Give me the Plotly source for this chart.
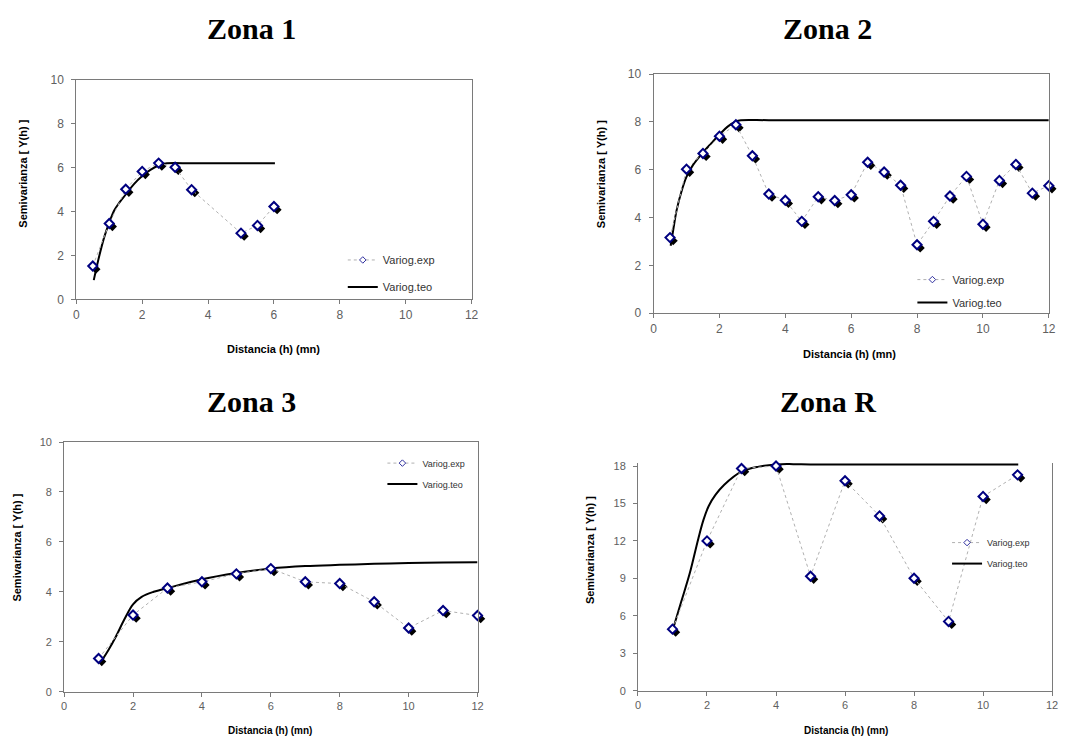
import plotly.graph_objects as go

# ---------------- data ----------------
z1_exp_x = [0.5, 1.0, 1.5, 2.0, 2.5, 3.0, 3.5, 5.0, 5.5, 6.0]
z1_exp_y = [1.52, 3.46, 5.02, 5.83, 6.21, 6.02, 5.00, 3.02, 3.37, 4.23]
z1_teo_x = [0.53, 0.7, 0.85, 1.0, 1.15, 1.3, 1.5, 1.75, 2.0, 2.25, 2.5, 2.75, 3.5, 4.5, 6.03]
z1_teo_y = [0.88, 2.0, 2.85, 3.5, 4.05, 4.4, 4.78, 5.25, 5.62, 5.9, 6.1, 6.2, 6.2, 6.2, 6.2]

z2_exp_x = [0.5, 1.0, 1.5, 2.0, 2.5, 3.0, 3.5, 4.0, 4.5, 5.0, 5.5, 6.0,
            6.5, 7.0, 7.5, 8.0, 8.5, 9.0, 9.5, 10.0, 10.5, 11.0, 11.5, 12.0]
z2_exp_y = [3.16, 6.02, 6.68, 7.40, 7.88, 6.58, 4.98, 4.72, 3.84, 4.87, 4.71, 4.95,
            6.31, 5.90, 5.35, 2.86, 3.84, 4.90, 5.72, 3.72, 5.55, 6.22, 5.02, 5.33]
z2_teo_x = [0.52, 0.6, 0.7, 0.85, 1.0, 1.2, 1.5, 1.75, 2.0, 2.25, 2.5, 2.65, 3.5, 6.0, 9.0, 12.0]
z2_teo_y = [2.82, 3.5, 4.3, 5.1, 5.7, 6.2, 6.72, 7.1, 7.47, 7.8, 8.02, 8.07, 8.07, 8.07, 8.07, 8.07]

z3_exp_x = [1, 2, 3, 4, 5, 6, 7, 8, 9, 10, 11, 12]
z3_exp_y = [1.33, 3.07, 4.15, 4.40, 4.72, 4.93, 4.40, 4.33, 3.60, 2.55, 3.25, 3.05]
z3_teo_x = [1.05, 1.3, 1.5, 1.75, 2.0, 2.25, 2.6, 3.0, 4.0, 5.0, 6.0, 7.0, 8.0, 9.0, 10.0, 11.0, 12.0]
z3_teo_y = [1.15, 1.7, 2.2, 2.9, 3.5, 3.8, 4.0, 4.15, 4.5, 4.75, 4.93, 5.03, 5.08, 5.12, 5.15, 5.17, 5.18]

zr_exp_x = [1, 2, 3, 4, 5, 6, 7, 8, 9, 10, 11]
zr_exp_y = [4.93, 12.0, 17.8, 18.0, 9.17, 16.82, 14.0, 9.01, 5.55, 15.56, 17.29]
zr_teo_x = [1.02, 1.25, 1.5, 1.75, 1.9, 2.05, 2.25, 2.5, 3.0, 3.5, 4.0, 4.5, 5.0, 8.0, 11.02]
zr_teo_y = [4.98, 7.1, 9.4, 12.2, 13.7, 14.8, 15.7, 16.5, 17.55, 17.95, 18.13, 18.15, 18.13, 18.13, 18.13]

titles = ["Zona 1", "Zona 2", "Zona 3", "Zona R"]
exp_name = "Variog.exp"
teo_name = "Variog.teo"
x_title = "Distancia (h) (mn)"
y_title = "Semivarianza [ Y(h) ]"

# ---------------- layout helpers ----------------
W, H = 1066, 750


def fx(px):
    return px / W


def fy(py):
    return 1 - py / H


panels = [
    dict(ex=z1_exp_x, ey=z1_exp_y, tx=z1_teo_x, ty=z1_teo_y,
         xl=74, xr=473, yt=74.3, yb=298, yr=[0, 10], dt=2, mx=True, tf=12,
         title=(250.5, 22), xt=(273.5, 349), yt_pos=(20, 170), atf=11,
         leg=(343, 243), lf=11, gap=8),
    dict(ex=z2_exp_x, ey=z2_exp_y, tx=z2_teo_x, ty=z2_teo_y,
         xl=656.7, xr=1055.7, yt=68.3, yb=312, yr=[0, 10], dt=2, mx=True, tf=12,
         title=(832.5, 22), xt=(855, 354), yt_pos=(603, 170), atf=11,
         leg=(918, 263), lf=11, gap=4),
    dict(ex=z3_exp_x, ey=z3_exp_y, tx=z3_teo_x, ty=z3_teo_y,
         xl=61.7, xr=479, yt=443.3, yb=697.7, yr=[0, 10], dt=2, mx=True, tf=11,
         title=(250.5, 401.5), xt=(270, 737), yt_pos=(14, 551), atf=10,
         leg=(383, 450), lf=9, gap=2),
    dict(ex=zr_exp_x, ey=zr_exp_y, tx=zr_teo_x, ty=zr_teo_y,
         xl=641, xr=1059, yt=464.3, yb=696.7, yr=[0, 18.27], dt=3, mx=False, tf=11,
         title=(833, 401.5), xt=(851, 737), yt_pos=(592, 553), atf=10,
         leg=(953, 531), lf=9, gap=2),
]

SH = 3.2  # shadow offset in px
AXC = "#7a7a7a"
TICKC = "#606060"
MSIZE = 7

fig = go.Figure()
layout = dict(width=W, height=H, margin=dict(l=0, r=0, t=0, b=0),
              paper_bgcolor="white", plot_bgcolor="rgba(0,0,0,0)",
              showlegend=True, annotations=[])

for i, p in enumerate(panels):
    ns, nm = 2 * i + 1, 2 * i + 2
    xs = "x" if ns == 1 else f"x{ns}"
    ys = "y" if ns == 1 else f"y{ns}"
    xm, ym = f"x{nm}", f"y{nm}"
    lg = "legend" if i == 0 else f"legend{i + 1}"

    # shadow axes (invisible, shifted a few px right/down)
    layout["xaxis" if ns == 1 else f"xaxis{ns}"] = dict(
        domain=[fx(p["xl"] + SH), fx(p["xr"] + SH)], range=[0, 12],
        visible=False, anchor=ys, fixedrange=True)
    layout["yaxis" if ns == 1 else f"yaxis{ns}"] = dict(
        domain=[fy(p["yb"] + SH), fy(p["yt"] + SH)], range=p["yr"],
        visible=False, anchor=xs, fixedrange=True)

    # main axes
    tfont = dict(family="Liberation Sans, Arial", size=p["tf"], color=TICKC)
    layout[f"xaxis{nm}"] = dict(
        domain=[fx(p["xl"]), fx(p["xr"])], range=[0, 12], anchor=ym,
        tickmode="linear", tick0=0, dtick=2, ticks="outside", ticklen=4,
        tickcolor=AXC, showline=True, linecolor=AXC, linewidth=1,
        mirror=p["mx"], showgrid=False, zeroline=False, ticklabelstandoff=0,
        tickfont=tfont)
    layout[f"yaxis{nm}"] = dict(
        domain=[fy(p["yb"]), fy(p["yt"])], range=p["yr"], anchor=xm,
        tickmode="linear", tick0=0, dtick=p["dt"], ticks="outside", ticklen=4,
        tickcolor=AXC, showline=True, linecolor=AXC, linewidth=1,
        mirror=True, showgrid=False, zeroline=False, ticklabelstandoff=5,
        tickfont=tfont)

    # legend for this panel
    layout[lg] = dict(x=fx(p["leg"][0]), y=fy(p["leg"][1]), xanchor="left", yanchor="top",
                      bgcolor="rgba(0,0,0,0)", borderwidth=0, traceorder="grouped",
                      tracegroupgap=p["gap"],
                      font=dict(family="Liberation Sans, Arial", size=p["lf"], color="#333333"))

    # shadow markers
    fig.add_trace(go.Scatter(x=p["ex"], y=p["ey"], mode="markers", xaxis=xs, yaxis=ys,
                             marker=dict(symbol="diamond", size=MSIZE, color="black"),
                             showlegend=False, cliponaxis=False, hoverinfo="skip"))
    # theoretical curve
    fig.add_trace(go.Scatter(x=p["tx"], y=p["ty"], mode="lines", xaxis=xm, yaxis=ym,
                             line=dict(color="black", width=2, shape="spline"),
                             name=teo_name, legend=lg, legendgroup=f"teo{i}", legendrank=2,
                             cliponaxis=False))
    # experimental variogram
    fig.add_trace(go.Scatter(x=p["ex"], y=p["ey"], mode="lines+markers", xaxis=xm, yaxis=ym,
                             line=dict(color="#b0b0b0", width=1, dash="dot"),
                             marker=dict(symbol="diamond", size=MSIZE, color="white",
                                         line=dict(color="#000080", width=2)),
                             name=exp_name, showlegend=False, legendgroup=f"exp{i}",
                             cliponaxis=False))
    # legend entry for the experimental variogram (smaller marker, as in the original)
    fig.add_trace(go.Scatter(x=[None], y=[None], mode="lines+markers", xaxis=xm, yaxis=ym,
                             line=dict(color="#b0b0b0", width=1, dash="dot"),
                             marker=dict(symbol="diamond", size=5, color="white",
                                         line=dict(color="#3030a0", width=1)),
                             name=exp_name, legend=lg, legendgroup=f"exp{i}", legendrank=1,
                             hoverinfo="skip"))

    # titles
    layout["annotations"].append(dict(
        text=f"<b>{titles[i]}</b>", x=fx(p["title"][0]), y=fy(p["title"][1]),
        xref="paper", yref="paper", showarrow=False, xanchor="center", yanchor="middle",
        font=dict(family="Liberation Serif, Times New Roman", size=30, color="black")))
    layout["annotations"].append(dict(
        text=f"<b>{x_title}</b>", x=fx(p["xt"][0]), y=fy(p["xt"][1]),
        xref="paper", yref="paper", showarrow=False, xanchor="center", yanchor="middle",
        font=dict(family="Liberation Sans, Arial", size=p["atf"], color="black")))
    layout["annotations"].append(dict(
        text=f"<b>{y_title}</b>", x=fx(p["yt_pos"][0]), y=fy(p["yt_pos"][1]),
        xref="paper", yref="paper", showarrow=False, xanchor="center", yanchor="middle",
        textangle=-90,
        font=dict(family="Liberation Sans, Arial", size=11, color="black")))

fig.update_layout(**layout)
fig.write_html("out.html", config={"displayModeBar": False},
               post_script="document.body.style.margin='0';document.body.style.overflow='hidden';")
